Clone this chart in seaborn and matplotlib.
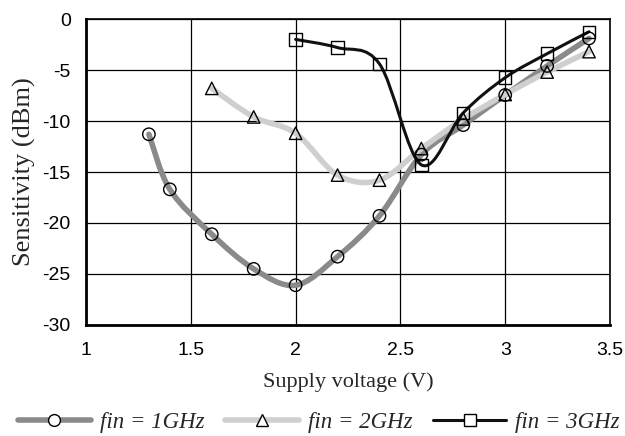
import numpy as np
import pandas as pd
import seaborn as sns
import matplotlib
matplotlib.use("Agg")
import matplotlib.pyplot as plt
from matplotlib.path import Path
from matplotlib.patches import PathPatch
from matplotlib.lines import Line2D

# ---- data ----
v_1g = [1.3, 1.4, 1.6, 1.8, 2.0, 2.2, 2.4, 2.6, 2.8, 3.0, 3.2, 3.4]
s_1g = [-11.3, -16.7, -21.1, -24.5, -26.1, -23.3, -19.3, -13.3, -10.4, -7.45, -4.6, -1.9]
v_2g = [1.6, 1.8, 2.0, 2.2, 2.4, 2.6, 2.8, 3.0, 3.2, 3.4]
s_2g = [-6.8, -9.6, -11.2, -15.3, -15.8, -12.7, -9.8, -7.4, -5.2, -3.2]
v_3g = [2.0, 2.2, 2.4, 2.6, 2.8, 3.0, 3.2, 3.4]
s_3g = [-2.0, -2.8, -4.4, -14.3, -9.2, -5.75, -3.4, -1.25]
labels = ["fin = 1GHz", "fin = 2GHz", "fin = 3GHz"]
x_ticks = [1, 1.5, 2, 2.5, 3, 3.5]
x_tick_labels = ["1", "1.5", "2", "2.5", "3", "3.5"]
y_ticks = [0, -5, -10, -15, -20, -25, -30]

sns.set_style("white")
plt.rcParams["font.family"] = ["Liberation Sans", "DejaVu Sans"]
plt.rcParams["axes.unicode_minus"] = False

fig = plt.figure(figsize=(6.25, 4.36), dpi=100)
ax = fig.add_axes([0.1376, 0.2546, 0.976 - 0.1376, 0.9564 - 0.2546])


def smooth_path(xs, ys):
    """Catmull-Rom style smoothed curve (like spreadsheet 'smoothed line') as Bezier path."""
    p = np.column_stack([xs, ys]).astype(float)
    n = len(p)
    verts = [p[0]]
    codes = [Path.MOVETO]
    for i in range(n - 1):
        p0 = p[i - 1] if i > 0 else p[i]
        p1 = p[i]
        p2 = p[i + 1]
        p3 = p[i + 2] if i + 2 < n else p[i + 1]
        c1 = p1 + (p2 - p0) / 6.0
        c2 = p2 - (p3 - p1) / 6.0
        verts += [c1, c2, p2]
        codes += [Path.CURVE4] * 3
    return Path(verts, codes)


series = [
    (v_1g, s_1g, "#8a8a8a", 4.0, "o", labels[0]),
    (v_2g, s_2g, "#cfcfcf", 4.0, "^", labels[1]),
    (v_3g, s_3g, "#111111", 2.2, "s", labels[2]),
]

for xs, ys, col, lw, mk, lab in series:
    ax.add_patch(PathPatch(smooth_path(xs, ys), facecolor="none", edgecolor=col,
                           lw=lw, capstyle="round", joinstyle="round", zorder=3))

for xs, ys, col, lw, mk, lab in series:
    df = pd.DataFrame({"x": xs, "y": ys})
    sns.scatterplot(data=df, x="x", y="y", ax=ax, marker=mk, s=80,
                    facecolors="none", edgecolor="black", linewidth=1.0, zorder=5)

ax.set_xlim(1, 3.5)
ax.set_ylim(-30, 0)
ax.set_xticks(x_ticks)
ax.set_xticklabels(x_tick_labels)
ax.set_yticks(y_ticks)
ax.tick_params(axis="x", labelsize=14, length=0, pad=12, colors="black")
ax.tick_params(axis="y", labelsize=14, length=0, pad=11, colors="black")
ax.grid(True, color="black", lw=0.9)
ax.set_axisbelow(True)
for side in ["top", "right"]:
    ax.spines[side].set_linewidth(1.2)
    ax.spines[side].set_color("black")
for side in ["left", "bottom"]:
    ax.spines[side].set_linewidth(2.0)
    ax.spines[side].set_color("black")

ax.set_xlabel("Supply voltage (V)", family="Liberation Serif", fontsize=16, labelpad=10)
ax.set_ylabel("Sensitivity (dBm)", family="Liberation Serif", fontsize=19, labelpad=5)

handles = [
    Line2D([], [], color=c, lw=lw, marker=mk, markersize=8.5, markerfacecolor="white",
           markeredgecolor="black", markeredgewidth=1.0)
    for _, _, c, lw, mk, _ in series
]
fig.legend(handles, labels, loc="center", bbox_to_anchor=(0.51, 1 - 422 / 436), ncol=3,
           frameon=False, handlelength=3.2, columnspacing=0.9, handletextpad=0.4,
           borderaxespad=0, borderpad=0,
           prop={"family": "Liberation Serif", "style": "italic", "size": 16.5})

fig.savefig("out.png", dpi=100)
